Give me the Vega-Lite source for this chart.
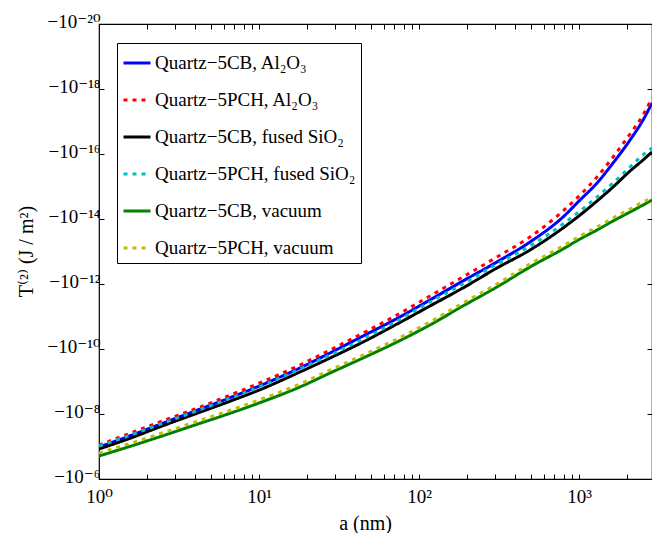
{
  "$schema": "https://vega.github.io/schema/vega-lite/v6.json",
  "width": 553,
  "height": 455,
  "autosize": {"type": "none"},
  "padding": {"left": 99, "top": 24, "right": 0, "bottom": 54},
  "background": "white",
  "config": {
    "view": {"stroke": "black", "strokeWidth": 1.2},
    "font": "Liberation Serif",
    "axis": {"grid": false, "domain": false, "tickColor": "black", "tickSize": -5, "tickWidth": 1, "labelColor": "black", "titleColor": "black", "labelFont": "Liberation Serif, DejaVu Serif", "titleFont": "Liberation Serif, DejaVu Serif", "titleFontWeight": "normal", "labelFontSize": 19}
  },
  "data": {"values": [
    {"a": 1, "T": -1.036e-7, "s": "Quartz−5CB, Al₂O₃"},
    {"a": 1.52, "T": -4.923e-8, "s": "Quartz−5CB, Al₂O₃"},
    {"a": 2.48, "T": -1.960e-8, "s": "Quartz−5CB, Al₂O₃"},
    {"a": 3.98, "T": -8.088e-9, "s": "Quartz−5CB, Al₂O₃"},
    {"a": 6.4, "T": -3.336e-9, "s": "Quartz−5CB, Al₂O₃"},
    {"a": 10.4, "T": -1.281e-9, "s": "Quartz−5CB, Al₂O₃"},
    {"a": 18, "T": -3.842e-10, "s": "Quartz−5CB, Al₂O₃"},
    {"a": 27.8, "T": -1.327e-10, "s": "Quartz−5CB, Al₂O₃"},
    {"a": 44.7, "T": -3.981e-11, "s": "Quartz−5CB, Al₂O₃"},
    {"a": 72.9, "T": -1.152e-11, "s": "Quartz−5CB, Al₂O₃"},
    {"a": 117, "T": -3.106e-12, "s": "Quartz−5CB, Al₂O₃"},
    {"a": 188, "T": -8.088e-13, "s": "Quartz−5CB, Al₂O₃"},
    {"a": 307, "T": -2.104e-13, "s": "Quartz−5CB, Al₂O₃"},
    {"a": 494, "T": -5.103e-14, "s": "Quartz−5CB, Al₂O₃"},
    {"a": 794, "T": -8.680e-15, "s": "Quartz−5CB, Al₂O₃"},
    {"a": 1015, "T": -2.602e-15, "s": "Quartz−5CB, Al₂O₃"},
    {"a": 1296, "T": -7.80e-16, "s": "Quartz−5CB, Al₂O₃"},
    {"a": 1632, "T": -1.892e-16, "s": "Quartz−5CB, Al₂O₃"},
    {"a": 2084, "T": -3.709e-17, "s": "Quartz−5CB, Al₂O₃"},
    {"a": 2512, "T": -8.992e-18, "s": "Quartz−5CB, Al₂O₃"},
    {"a": 2858, "T": -2.697e-18, "s": "Quartz−5CB, Al₂O₃"},

    {"a": 1, "T": -1.194e-7, "s": "Quartz−5CB, fused SiO₂"},
    {"a": 1.52, "T": -5.877e-8, "s": "Quartz−5CB, fused SiO₂"},
    {"a": 2.48, "T": -2.340e-8, "s": "Quartz−5CB, fused SiO₂"},
    {"a": 3.98, "T": -1.0e-8, "s": "Quartz−5CB, fused SiO₂"},
    {"a": 6.4, "T": -4.273e-9, "s": "Quartz−5CB, fused SiO₂"},
    {"a": 10.4, "T": -1.701e-9, "s": "Quartz−5CB, fused SiO₂"},
    {"a": 18, "T": -5.103e-10, "s": "Quartz−5CB, fused SiO₂"},
    {"a": 27.8, "T": -1.892e-10, "s": "Quartz−5CB, fused SiO₂"},
    {"a": 44.7, "T": -6.089e-11, "s": "Quartz−5CB, fused SiO₂"},
    {"a": 72.9, "T": -1.701e-11, "s": "Quartz−5CB, fused SiO₂"},
    {"a": 117, "T": -4.753e-12, "s": "Quartz−5CB, fused SiO₂"},
    {"a": 188, "T": -1.327e-12, "s": "Quartz−5CB, fused SiO₂"},
    {"a": 307, "T": -3.219e-13, "s": "Quartz−5CB, fused SiO₂"},
    {"a": 494, "T": -8.992e-14, "s": "Quartz−5CB, fused SiO₂"},
    {"a": 794, "T": -1.892e-14, "s": "Quartz−5CB, fused SiO₂"},
    {"a": 1015, "T": -7.534e-15, "s": "Quartz−5CB, fused SiO₂"},
    {"a": 1296, "T": -2.794e-15, "s": "Quartz−5CB, fused SiO₂"},
    {"a": 1632, "T": -1.036e-15, "s": "Quartz−5CB, fused SiO₂"},
    {"a": 2084, "T": -3.336e-16, "s": "Quartz−5CB, fused SiO₂"},
    {"a": 2512, "T": -1.530e-16, "s": "Quartz−5CB, fused SiO₂"},
    {"a": 2858, "T": -8.680e-17, "s": "Quartz−5CB, fused SiO₂"},

    {"a": 1, "T": -1.960e-7, "s": "Quartz−5CB, vacuum"},
    {"a": 1.52, "T": -1.036e-7, "s": "Quartz−5CB, vacuum"},
    {"a": 2.48, "T": -4.753e-8, "s": "Quartz−5CB, vacuum"},
    {"a": 3.98, "T": -2.180e-8, "s": "Quartz−5CB, vacuum"},
    {"a": 6.4, "T": -1.0e-8, "s": "Quartz−5CB, vacuum"},
    {"a": 10.4, "T": -4.273e-9, "s": "Quartz−5CB, vacuum"},
    {"a": 18, "T": -1.476e-9, "s": "Quartz−5CB, vacuum"},
    {"a": 27.8, "T": -5.476e-10, "s": "Quartz−5CB, vacuum"},
    {"a": 44.7, "T": -1.892e-10, "s": "Quartz−5CB, vacuum"},
    {"a": 72.9, "T": -6.089e-11, "s": "Quartz−5CB, vacuum"},
    {"a": 117, "T": -1.826e-11, "s": "Quartz−5CB, vacuum"},
    {"a": 188, "T": -4.753e-12, "s": "Quartz−5CB, vacuum"},
    {"a": 307, "T": -1.237e-12, "s": "Quartz−5CB, vacuum"},
    {"a": 494, "T": -2.999e-13, "s": "Quartz−5CB, vacuum"},
    {"a": 794, "T": -8.378e-14, "s": "Quartz−5CB, vacuum"},
    {"a": 1015, "T": -4.124e-14, "s": "Quartz−5CB, vacuum"},
    {"a": 1296, "T": -2.180e-14, "s": "Quartz−5CB, vacuum"},
    {"a": 1632, "T": -1.152e-14, "s": "Quartz−5CB, vacuum"},
    {"a": 2084, "T": -6.089e-15, "s": "Quartz−5CB, vacuum"},
    {"a": 2512, "T": -3.709e-15, "s": "Quartz−5CB, vacuum"},
    {"a": 2858, "T": -2.602e-15, "s": "Quartz−5CB, vacuum"},

    {"a": 1, "T": -8.992e-8, "s": "Quartz−5PCH, Al₂O₃"},
    {"a": 1.52, "T": -4.124e-8, "s": "Quartz−5PCH, Al₂O₃"},
    {"a": 2.48, "T": -1.642e-8, "s": "Quartz−5PCH, Al₂O₃"},
    {"a": 3.98, "T": -7.018e-9, "s": "Quartz−5PCH, Al₂O₃"},
    {"a": 6.4, "T": -2.794e-9, "s": "Quartz−5PCH, Al₂O₃"},
    {"a": 10.4, "T": -1.036e-9, "s": "Quartz−5PCH, Al₂O₃"},
    {"a": 18, "T": -3.106e-10, "s": "Quartz−5PCH, Al₂O₃"},
    {"a": 27.8, "T": -1.073e-10, "s": "Quartz−5PCH, Al₂O₃"},
    {"a": 44.7, "T": -3.219e-11, "s": "Quartz−5PCH, Al₂O₃"},
    {"a": 72.9, "T": -8.992e-12, "s": "Quartz−5PCH, Al₂O₃"},
    {"a": 117, "T": -2.340e-12, "s": "Quartz−5PCH, Al₂O₃"},
    {"a": 188, "T": -6.089e-13, "s": "Quartz−5PCH, Al₂O₃"},
    {"a": 307, "T": -1.476e-13, "s": "Quartz−5PCH, Al₂O₃"},
    {"a": 494, "T": -3.580e-14, "s": "Quartz−5PCH, Al₂O₃"},
    {"a": 794, "T": -5.673e-15, "s": "Quartz−5PCH, Al₂O₃"},
    {"a": 1015, "T": -1.826e-15, "s": "Quartz−5PCH, Al₂O₃"},
    {"a": 1296, "T": -5.103e-16, "s": "Quartz−5PCH, Al₂O₃"},
    {"a": 1632, "T": -1.237e-16, "s": "Quartz−5PCH, Al₂O₃"},
    {"a": 2084, "T": -2.424e-17, "s": "Quartz−5PCH, Al₂O₃"},
    {"a": 2512, "T": -6.310e-18, "s": "Quartz−5PCH, Al₂O₃"},
    {"a": 2858, "T": -1.892e-18, "s": "Quartz−5PCH, Al₂O₃"},

    {"a": 1, "T": -9.652e-8, "s": "Quartz−5PCH, fused SiO₂"},
    {"a": 1.52, "T": -4.753e-8, "s": "Quartz−5PCH, fused SiO₂"},
    {"a": 2.48, "T": -1.960e-8, "s": "Quartz−5PCH, fused SiO₂"},
    {"a": 3.98, "T": -8.378e-9, "s": "Quartz−5PCH, fused SiO₂"},
    {"a": 6.4, "T": -3.455e-9, "s": "Quartz−5PCH, fused SiO₂"},
    {"a": 10.4, "T": -1.375e-9, "s": "Quartz−5PCH, fused SiO₂"},
    {"a": 18, "T": -4.124e-10, "s": "Quartz−5PCH, fused SiO₂"},
    {"a": 27.8, "T": -1.530e-10, "s": "Quartz−5PCH, fused SiO₂"},
    {"a": 44.7, "T": -4.923e-11, "s": "Quartz−5PCH, fused SiO₂"},
    {"a": 72.9, "T": -1.375e-11, "s": "Quartz−5PCH, fused SiO₂"},
    {"a": 117, "T": -3.580e-12, "s": "Quartz−5PCH, fused SiO₂"},
    {"a": 188, "T": -1.0e-12, "s": "Quartz−5PCH, fused SiO₂"},
    {"a": 307, "T": -2.424e-13, "s": "Quartz−5PCH, fused SiO₂"},
    {"a": 494, "T": -6.772e-14, "s": "Quartz−5PCH, fused SiO₂"},
    {"a": 794, "T": -1.424e-14, "s": "Quartz−5PCH, fused SiO₂"},
    {"a": 1015, "T": -5.673e-15, "s": "Quartz−5PCH, fused SiO₂"},
    {"a": 1296, "T": -2.104e-15, "s": "Quartz−5PCH, fused SiO₂"},
    {"a": 1632, "T": -7.80e-16, "s": "Quartz−5PCH, fused SiO₂"},
    {"a": 2084, "T": -2.512e-16, "s": "Quartz−5PCH, fused SiO₂"},
    {"a": 2512, "T": -1.073e-16, "s": "Quartz−5PCH, fused SiO₂"},
    {"a": 2858, "T": -6.536e-17, "s": "Quartz−5PCH, fused SiO₂"},

    {"a": 1, "T": -1.585e-7, "s": "Quartz−5PCH, vacuum"},
    {"a": 1.52, "T": -8.378e-8, "s": "Quartz−5PCH, vacuum"},
    {"a": 2.48, "T": -3.842e-8, "s": "Quartz−5PCH, vacuum"},
    {"a": 3.98, "T": -1.763e-8, "s": "Quartz−5PCH, vacuum"},
    {"a": 6.4, "T": -8.088e-9, "s": "Quartz−5PCH, vacuum"},
    {"a": 10.4, "T": -3.455e-9, "s": "Quartz−5PCH, vacuum"},
    {"a": 18, "T": -1.194e-9, "s": "Quartz−5PCH, vacuum"},
    {"a": 27.8, "T": -4.428e-10, "s": "Quartz−5PCH, vacuum"},
    {"a": 44.7, "T": -1.530e-10, "s": "Quartz−5PCH, vacuum"},
    {"a": 72.9, "T": -4.923e-11, "s": "Quartz−5PCH, vacuum"},
    {"a": 117, "T": -1.476e-11, "s": "Quartz−5PCH, vacuum"},
    {"a": 188, "T": -3.842e-12, "s": "Quartz−5PCH, vacuum"},
    {"a": 307, "T": -1.0e-12, "s": "Quartz−5PCH, vacuum"},
    {"a": 494, "T": -2.424e-13, "s": "Quartz−5PCH, vacuum"},
    {"a": 794, "T": -6.772e-14, "s": "Quartz−5PCH, vacuum"},
    {"a": 1015, "T": -3.336e-14, "s": "Quartz−5PCH, vacuum"},
    {"a": 1296, "T": -1.763e-14, "s": "Quartz−5PCH, vacuum"},
    {"a": 1632, "T": -9.316e-15, "s": "Quartz−5PCH, vacuum"},
    {"a": 2084, "T": -4.923e-15, "s": "Quartz−5PCH, vacuum"},
    {"a": 2512, "T": -2.999e-15, "s": "Quartz−5PCH, vacuum"},
    {"a": 2858, "T": -2.258e-15, "s": "Quartz−5PCH, vacuum"}
  ]},
  "resolve": {"axis": {"x": "independent", "y": "independent"}},
  "layer": [
    {
      "mark": {"type": "line", "interpolate": "monotone", "strokeWidth": 3, "clip": true},
      "encoding": {
        "x": {"field": "a", "type": "quantitative",
          "scale": {"type": "log", "domain": [1, 2858], "nice": false},
          "axis": {"orient": "bottom", "values": [1,2,3,4,5,6,7,8,9,10,20,30,40,50,60,70,80,90,100,200,300,400,500,600,700,800,900,1000,2000],
            "labelExpr": "datum.value == 1 ? '10⁰' : datum.value == 10 ? '10¹' : datum.value == 100 ? '10²' : datum.value == 1000 ? '10³' : ''",
            "labelFontSize": 19, "labelPadding": 13, "labelFlush": false, "labelOverlap": false,
            "title": "a  (nm)", "titleFontSize": 20, "titleX": 266, "titleY": 44, "titleBaseline": "middle"}},
        "y": {"field": "T", "type": "quantitative",
          "scale": {"type": "log", "domain": [-1e-6, -1e-20], "nice": false},
          "axis": {"orient": "left", "values": [-1e-20, -1e-18, -1e-16, -1e-14, -1e-12, -1e-10, -1e-8, -1e-6],
            "labelExpr": "datum.value > -1e-19 ? '−10⁻²⁰' : datum.value > -1e-17 ? '−10⁻¹⁸' : datum.value > -1e-15 ? '−10⁻¹⁶' : datum.value > -1e-13 ? '−10⁻¹⁴' : datum.value > -1e-11 ? '−10⁻¹²' : datum.value > -1e-9 ? '−10⁻¹⁰' : datum.value > -1e-7 ? '−10⁻⁸' : '−10⁻⁶'",
            "labelFontSize": 19, "labelPadding": 4, "labelOffset": -3, "labelFlush": false, "labelOverlap": false,
            "title": "T⁽²⁾ (J / m²)", "titleFontSize": 20, "titleX": -73, "titleY": 227, "titleAngle": -90, "titleBaseline": "middle", "titleAlign": "center"}},
        "color": {"field": "s", "type": "nominal",
          "scale": {"domain": ["Quartz−5CB, Al₂O₃", "Quartz−5PCH, Al₂O₃", "Quartz−5CB, fused SiO₂", "Quartz−5PCH, fused SiO₂", "Quartz−5CB, vacuum", "Quartz−5PCH, vacuum"],
            "range": ["#0000ff", "#ff0000", "#000000", "#00bfbf", "#008000", "#bfbf00"]},
          "legend": {"title": null, "orient": "none", "legendX": 18, "legendY": 19,
            "strokeColor": "black", "fillColor": "white", "padding": 5,
            "symbolType": "stroke", "symbolSize": 729, "symbolStrokeWidth": 3,
            "labelFont": "Liberation Serif, DejaVu Serif", "labelFontSize": 19, "labelColor": "black", "labelOffset": 3,
            "rowPadding": 12, "labelLimit": 400}},
        "strokeDash": {"field": "s", "type": "nominal",
          "scale": {"domain": ["Quartz−5CB, Al₂O₃", "Quartz−5PCH, Al₂O₃", "Quartz−5CB, fused SiO₂", "Quartz−5PCH, fused SiO₂", "Quartz−5CB, vacuum", "Quartz−5PCH, vacuum"],
            "range": [[1, 0], [4, 5], [1, 0], [4, 5], [1, 0], [4, 5]]},
          "legend": null}
      }
    },
    {
      "mark": {"type": "line", "opacity": 0},
      "encoding": {
        "x": {"field": "a", "type": "quantitative",
          "axis": {"orient": "top", "values": [1,2,3,4,5,6,7,8,9,10,20,30,40,50,60,70,80,90,100,200,300,400,500,600,700,800,900,1000,2000], "labels": false, "title": null}},
        "y": {"field": "T", "type": "quantitative",
          "axis": {"orient": "right", "values": [-1e-20, -1e-18, -1e-16, -1e-14, -1e-12, -1e-10, -1e-8, -1e-6], "labels": false, "title": null}}
      }
    }
  ]
}
